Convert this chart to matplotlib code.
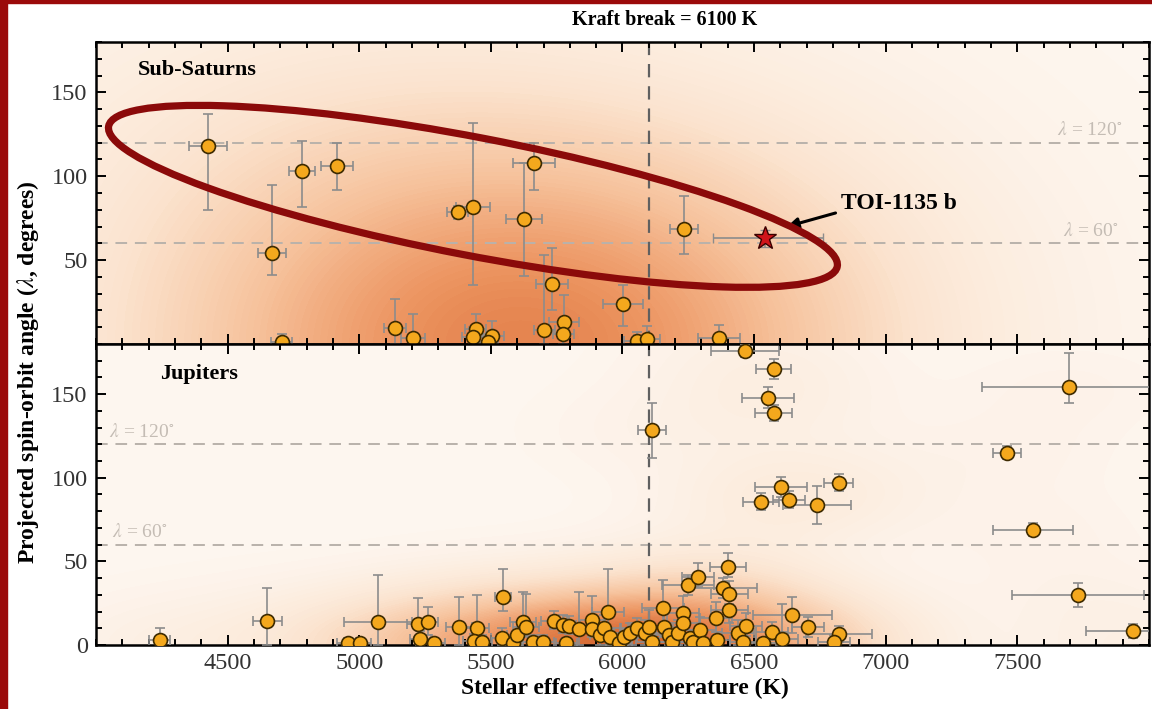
import numpy as np
import matplotlib
matplotlib.use('Agg')
import matplotlib.pyplot as plt
import matplotlib.transforms as mtransforms
from matplotlib.patches import Ellipse, Rectangle
from matplotlib.colors import LinearSegmentedColormap
from matplotlib.ticker import MultipleLocator

plt.rcParams['font.family'] = ['Liberation Serif', 'DejaVu Serif']
plt.rcParams['mathtext.fontset'] = 'stix'

# Sub-Saturns: Teff, lambda, Teff err, lambda err (low, high)
sub_teff = [4425, 4669, 4783, 4915, 5136, 4706, 5375, 5432, 5664, 5626, 5732, 6002, 6234,
            5204, 5443, 5432, 5504, 5489, 5702, 5778, 5775, 6055, 6093, 6367]
sub_lam = [118, 54, 103, 106, 9.5, 1, 78.5, 81.6, 108, 74.5, 35.6, 24, 68.5,
           3.6, 9, 4, 5, 1, 8.3, 13, 5.7, 2, 3, 3.5]
sub_terr = [72, 52, 48, 62, 40, 40, 40, 65, 80, 70, 60, 76, 53,
            45, 40, 40, 45, 40, 40, 57, 40, 50, 50, 80]
sub_lerr_lo = [38, 13, 21.5, 14, 9.5, 1, 4, 46.6, 16, 34, 15.6, 13, 15,
               3.6, 9, 4, 5, 1, 8.3, 8, 5.7, 2, 3, 3.5]
sub_lerr_hi = [19, 41, 18, 14, 17.5, 5, 4, 50, 12, 33.5, 21.4, 11, 19.5,
               14.4, 9, 6, 9, 5, 45, 16, 8, 5, 8, 8]

# TOI-1135 b
toi_teff = [6541]
toi_lam = [63]
toi_terr = [[198], [220]]
toi_lerr = [[5], [5]]

# Jupiters
jup_teff = [4243, 4650, 4957, 5003, 5072, 5223, 5261, 5231, 5284, 5379, 5447, 5436, 5466,
            5546, 5542, 5584, 5600, 5622, 5633, 5660, 5698, 5740, 5774, 5797, 5786, 5835,
            5884, 5884, 5915, 5930, 5945, 5953, 5987, 6006, 6028, 6055, 6085, 6101, 6112,
            6112, 6154, 6158, 6177, 6188, 6211, 6230, 6230, 6249, 6287, 6256, 6268, 6294,
            6306, 6355, 6359, 6382, 6401, 6405, 6405, 6439, 6469, 6458, 6526, 6553, 6575,
            6575, 6465, 6534, 6568, 6602, 6633, 6739, 6822, 7460, 7696, 7559, 7730, 7939,
            6645, 6605, 6705, 6822, 6804]
jup_lam = [3, 14.3, 1, 1, 13.7, 12.5, 13.7, 3.6, 1, 10.7, 10, 2.4, 2,
           28.6, 4, 1, 6, 13.7, 10.7, 2, 2, 14.3, 12, 11.3, 1, 9.5,
           15, 9.5, 6, 10, 19.6, 4.8, 1, 4.8, 7, 10, 7, 10.7, 2,
           128.6, 22, 10.7, 6, 2, 7, 19, 13, 35.7, 40.5, 4, 2, 9,
           1, 16, 3, 34, 46.4, 30.4, 21, 7, 11.3, 2, 85.7, 148, 138.7,
           165, 176, 1, 7.7, 94.6, 87, 84, 97, 115, 154, 69, 29.8, 8.3,
           17.9, 3.6, 10.7, 6.5, 2]
jup_terr = [40, 55, 40, 40, 130, 40, 40, 40, 40, 50, 45, 40, 40,
            30, 40, 40, 40, 50, 50, 40, 40, 50, 50, 40, 40, 50,
            50, 40, 40, 60, 60, 40, 50, 50, 60, 60, 60, 80, 60,
            53, 80, 60, 50, 50, 60, 60, 60, 100, 60, 50, 50, 60,
            50, 60, 50, 130, 70, 70, 70, 60, 60, 50, 68, 100, 70,
            66, 130, 50, 60, 100, 60, 130, 55, 52, 330, 152, 250, 180,
            150, 60, 60, 125, 60]
jup_lerr_lo = [3, 14.3, 1, 1, 13.7, 8, 8, 3.6, 1, 10.7, 10, 2.4, 2,
               8, 4, 1, 6, 8, 6, 2, 2, 5, 5, 5, 1, 9.5,
               8, 5, 6, 6, 10, 4.8, 1, 4.8, 7, 6, 7, 6, 2,
               16.6, 10, 6, 6, 2, 7, 8, 6, 6, 6, 4, 2, 9,
               1, 8, 3, 6, 6, 6, 8, 7, 6, 2, 5, 6, 5,
               6, 4, 1, 5, 6, 5, 11.4, 5, 4, 9.4, 4, 6.8, 4,
               11, 3.6, 6, 5, 2]
jup_lerr_hi = [7, 20, 3, 3, 28, 15.5, 9, 5, 3, 18, 20, 4, 4,
               17, 6, 3, 8, 18, 20, 4, 4, 6, 6, 6, 3, 22,
               14, 6, 6, 8, 26, 5, 3, 5, 6, 6, 8, 10, 4,
               16, 16.7, 8, 6, 4, 8, 10, 8, 6, 8.5, 5, 4, 8,
               3, 10, 5, 6, 8.6, 8, 10, 8, 8, 4, 5, 6, 5,
               6, 4, 3, 6, 6, 5, 11, 5, 4, 20.4, 4, 7.2, 4,
               10.7, 21, 6, 5, 4]

xticks = [4500, 5000, 5500, 6000, 6500, 7000, 7500]
kraft = 6100

bg_cmap = LinearSegmentedColormap.from_list(
    'bg', ['#fdf6ef', '#fbe4d0', '#f6c29c', '#ec9460', '#d5662f'])


def density(t, lam, ht, hl):
    tg = np.linspace(4000, 8000, 400)
    lg = np.linspace(0, 180, 220)
    TT, LL = np.meshgrid(tg, lg)
    Z = np.zeros_like(TT)
    for ti, li in zip(t, lam):
        Z += np.exp(-0.5 * ((TT - ti) / ht) ** 2 - 0.5 * ((LL - li) / hl) ** 2)
        Z += np.exp(-0.5 * ((TT - ti) / ht) ** 2 - 0.5 * ((LL + li) / hl) ** 2)
    return TT, LL, Z / Z.max()


fig = plt.figure(figsize=(11.52, 7.09), dpi=100)
ax1 = fig.add_axes([0.0833, 0.5148, 0.9141, 0.4260])
ax2 = fig.add_axes([0.0833, 0.0903, 0.9141, 0.4245])

TT, LL, Z1 = density(sub_teff + toi_teff, sub_lam + toi_lam, 700, 70)
ax1.contourf(TT, LL, Z1 ** 0.75, levels=70, cmap=bg_cmap, vmin=0, vmax=1.2, zorder=0)
TT, LL, Z2 = density(jup_teff, jup_lam, 290, 19)
ax2.contourf(TT, LL, Z2 ** 0.75, levels=70, cmap=bg_cmap, vmin=0, vmax=1, zorder=0)

for ax in (ax1, ax2):
    for v in (60, 120):
        ax.axhline(v, color='#b9b2ab', lw=1.4, ls=(0, (6, 4)), zorder=1)
    ax.axvline(kraft, color='#606060', lw=1.6, ls=(0, (6, 4)), zorder=1)
    ax.set_xlim(4000, 8000)
    ax.set_ylim(0, 180)
    ax.xaxis.set_minor_locator(MultipleLocator(100))
    ax.yaxis.set_minor_locator(MultipleLocator(10))
    ax.tick_params(which='both', direction='in', top=True, right=True,
                   labelsize=17.5, labelcolor='#333333', width=1.4)
    ax.tick_params(which='major', length=7, pad=6)
    ax.tick_params(which='minor', length=4)
    for s in ax.spines.values():
        s.set_linewidth(1.8)

err_kw = dict(fmt='o', ms=10, mfc='#f4a81d', mec='#3d2a00', mew=1.2,
              ecolor='#8c8c8c', elinewidth=1.2, capsize=3.5, capthick=1.0, zorder=3)

ax1.errorbar(sub_teff, sub_lam, xerr=sub_terr, yerr=[sub_lerr_lo, sub_lerr_hi], **err_kw)
ax1.errorbar(toi_teff, toi_lam, xerr=toi_terr, yerr=toi_lerr, fmt='*', ms=17,
             mfc='#d0141a', mec='#3a0000', mew=1.0, ecolor='#8c8c8c',
             elinewidth=1.2, capsize=3.5, zorder=4)
ax2.errorbar(jup_teff, jup_lam, xerr=jup_terr, yerr=[jup_lerr_lo, jup_lerr_hi], **err_kw)

ax1.set_yticks([50, 100, 150])
ax1.set_xticks(xticks)
ax1.set_xticklabels([])
ax2.set_yticks([0, 50, 100, 150])
ax2.set_xticks(xticks)

# lambda reference labels
lab_kw = dict(color='#c4bcb4', fontsize=14, zorder=2)
ax1.text(7650, 122, r'$\lambda$ = 120$^{\circ}$', ha='left', va='bottom', **lab_kw)
ax1.text(7672, 62, r'$\lambda$ = 60$^{\circ}$', ha='left', va='bottom', **lab_kw)
ax2.text(4050, 122, r'$\lambda$ = 120$^{\circ}$', ha='left', va='bottom', **lab_kw)
ax2.text(4060, 62, r'$\lambda$ = 60$^{\circ}$', ha='left', va='bottom', **lab_kw)

ax1.text(4160, 163, 'Sub-Saturns', fontsize=16, fontweight='bold', ha='left', va='center')
ax2.text(4243, 162, 'Jupiters', fontsize=16, fontweight='bold', ha='left', va='center')

ax1.annotate('TOI-1135 b', xy=(6625, 70), xytext=(6830, 84), fontsize=17,
             fontweight='bold', ha='left', va='center',
             arrowprops=dict(arrowstyle='-|>', color='black', lw=2.2,
                             mutation_scale=16, relpos=(0, 0.1), shrinkA=2, shrinkB=0),
             zorder=5)

# highlight ellipse around the misaligned sub-Saturns
ell_trans = fig.dpi_scale_trans + mtransforms.ScaledTranslation(5432, 88, ax1.transData)
ax1.add_patch(Ellipse((0, 0), width=7.42, height=1.18, angle=-10.9, fill=False,
                      edgecolor='#8b0a0a', lw=5.2, transform=ell_trans, clip_on=False,
                      zorder=6))

fig.text(0.577, 0.972, 'Kraft break = 6100 K', fontsize=14.5, fontweight='bold',
         ha='center', va='center')
fig.text(0.5425, 0.0296, 'Stellar effective temperature (K)', fontsize=17,
         fontweight='bold', ha='center', va='center')
fig.text(0.0245, 0.4745, r'Projected spin-orbit angle ($\lambda$, degrees)', fontsize=17,
         fontweight='bold', ha='center', va='center', rotation=90)

# slide frame
fig.patches.append(Rectangle((0, 0), 7 / 1152, 1, transform=fig.transFigure,
                             color='#9b0a0a', zorder=10))
fig.patches.append(Rectangle((0, 1 - 3 / 709), 1, 3 / 709, transform=fig.transFigure,
                             color='#9b0a0a', zorder=10))

fig.savefig('out.png', dpi=100)
